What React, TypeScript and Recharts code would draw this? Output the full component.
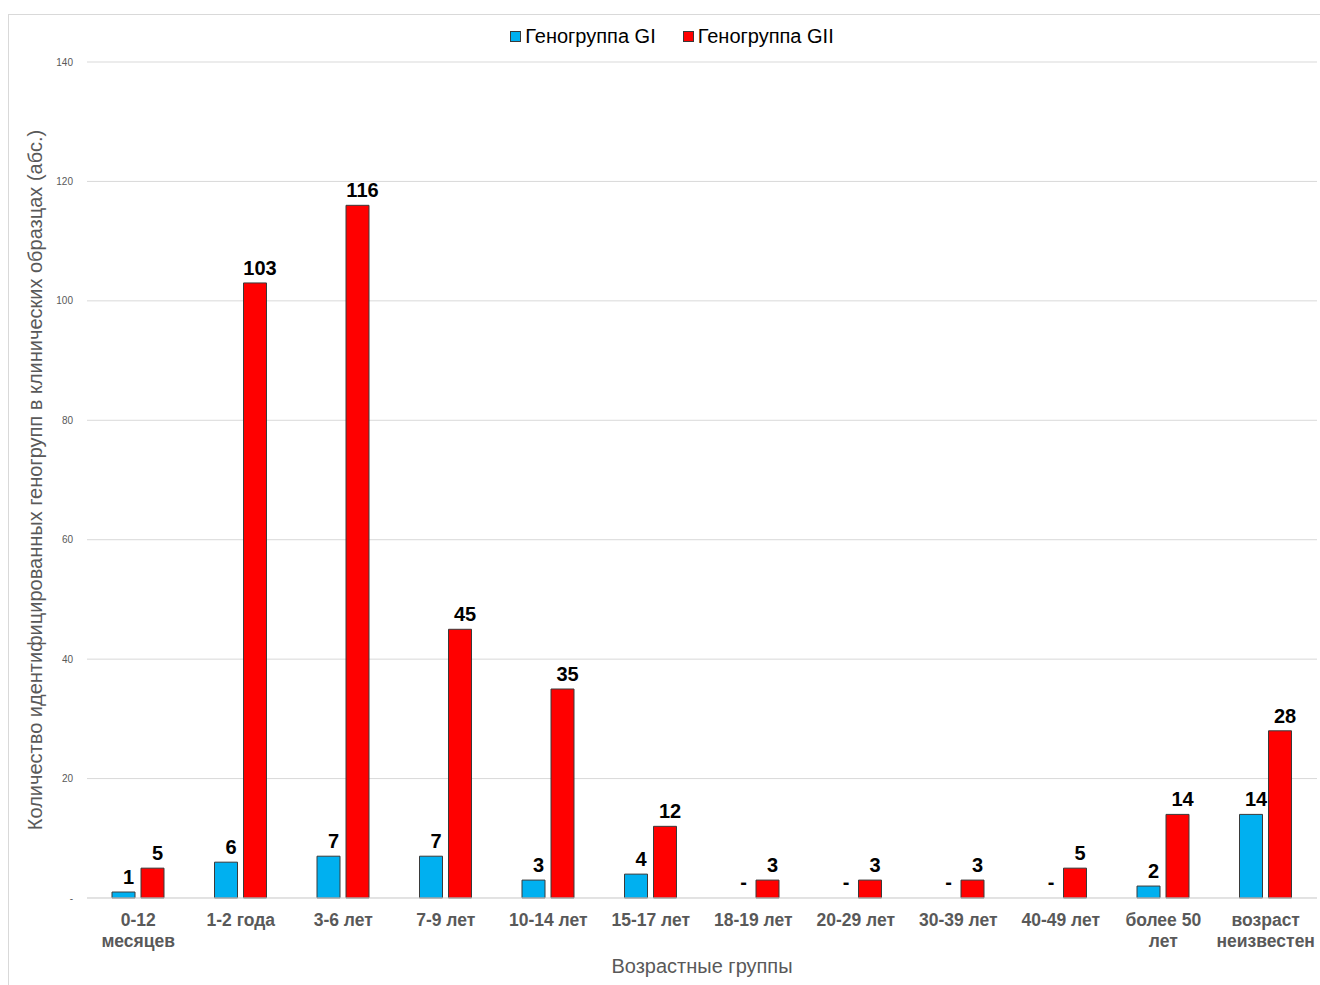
import React from 'react';
import {
  BarChart,
  Bar,
  Cell,
  XAxis,
  YAxis,
  CartesianGrid,
  Legend,
  LabelList,
} from 'recharts';

// Age groups (line breaks split the two-line tick labels)
const ageGroups: string[] = [
  '0-12\nмесяцев',
  '1-2 года',
  '3-6 лет',
  '7-9 лет',
  '10-14 лет',
  '15-17 лет',
  '18-19 лет',
  '20-29 лет',
  '30-39 лет',
  '40-49 лет',
  'более 50\nлет',
  'возраст\nнеизвестен',
];

// Genogroup GI counts (0 = not detected, shown as "-")
const genogroupGI: number[] = [1, 6, 7, 7, 3, 4, 0, 0, 0, 0, 2, 14];

// Genogroup GII counts
const genogroupGII: number[] = [5, 103, 116, 45, 35, 12, 3, 3, 3, 5, 14, 28];

const yTicks: number[] = [0, 20, 40, 60, 80, 100, 120, 140];

const seriesNames = ['Геногруппа GI', 'Геногруппа GII'];

const data = ageGroups.map((group, i) => ({
  group,
  gi: genogroupGI[i],
  gii: genogroupGII[i],
}));

const FONT = '"Liberation Sans", Arial, sans-serif';
const AXIS_GRAY = '#595959';
const GRID = '#d9d9d9';
const BLUE = '#00B0F0';
const RED = '#FF0000';
const OUTLINE = '#3a3a3a';

const dashZero = (v: any) => (Number(v) === 0 ? '-' : v);

const GroupTick = (props: any) => {
  const { x, y, payload } = props;
  const lines = String(payload.value).split('\n');
  return (
    <text
      x={x}
      y={y}
      textAnchor="middle"
      fill={AXIS_GRAY}
      fontFamily={FONT}
      fontSize={17.5}
      fontWeight="bold"
    >
      {lines.map((line, i) => (
        <tspan key={i} x={x} dy={i === 0 ? 20 : 21}>
          {line}
        </tspan>
      ))}
    </text>
  );
};

const TopLegend = (props: any) => {
  const payload = props.payload || [];
  return (
    <div style={{ height: 41, display: 'flex', justifyContent: 'center' }}>
      <div
        style={{
          height: 30,
          display: 'flex',
          alignItems: 'center',
          gap: 27,
          fontFamily: FONT,
          fontSize: 20,
          color: '#000',
          marginLeft: 18,
        }}
      >
        {payload.map((item: any) => (
          <div key={item.value} style={{ display: 'flex', alignItems: 'center' }}>
            <span
              style={{
                display: 'inline-block',
                width: 9,
                height: 9,
                background: item.color,
                border: `1px solid ${OUTLINE}`,
                marginRight: 4,
              }}
            />
            <span>{item.value}</span>
          </div>
        ))}
      </div>
    </div>
  );
};

const valueLabelStyle = {
  fill: '#000',
  fontSize: 20,
  fontWeight: 'bold',
  fontFamily: FONT,
  dx: 5,
};

export default function App() {
  return (
    <div style={{ paddingTop: 6 }}>
      <style>{'html,body{overflow:hidden} body{margin:8px 0 0 8px}'}</style>
      <div
        style={{
          width: 1312,
          height: 971,
          boxSizing: 'border-box',
          borderTop: `1px solid ${GRID}`,
          borderLeft: `1px solid ${GRID}`,
          background: '#fff',
        }}
      >
        <BarChart
          width={1311}
          height={969}
          data={data}
          margin={{ top: 6, right: 3, bottom: 0, left: 0 }}
          barSize={23}
          barGap={6}
        >
          <Legend
            verticalAlign="top"
            align="center"
            height={41}
            content={<TopLegend />}
          />
          <CartesianGrid vertical={false} stroke={GRID} strokeWidth={1} />
          <XAxis
            dataKey="group"
            height={86}
            interval={0}
            tickLine={false}
            axisLine={{ stroke: GRID }}
            tick={<GroupTick />}
            label={{
              value: 'Возрастные группы',
              position: 'insideBottom',
              offset: 11,
              fill: AXIS_GRAY,
              fontSize: 20,
              fontFamily: FONT,
            }}
          />
          <YAxis
            width={78}
            domain={[0, 140]}
            ticks={yTicks}
            tickFormatter={dashZero}
            tickLine={false}
            axisLine={false}
            tickSize={6}
            tickMargin={8}
            tick={{ fill: AXIS_GRAY, fontSize: 10, fontFamily: FONT }}
            label={{
              value: 'Количество идентифицированных геногрупп в клинических образцах (абс.)',
              angle: -90,
              position: 'insideLeft',
              offset: 26,
              fill: AXIS_GRAY,
              fontSize: 20,
              fontFamily: FONT,
              style: { textAnchor: 'middle' },
            }}
          />
          <Bar
            dataKey="gi"
            name={seriesNames[0]}
            fill={BLUE}
            stroke={OUTLINE}
            strokeWidth={1}
            minPointSize={1}
            isAnimationActive={false}
          >
            {data.map((d, i) => (
              <Cell
                key={i}
                fill={d.gi === 0 ? 'transparent' : BLUE}
                stroke={d.gi === 0 ? 'none' : OUTLINE}
              />
            ))}
            <LabelList
              dataKey="gi"
              position="top"
              offset={8}
              formatter={dashZero}
              {...valueLabelStyle}
            />
          </Bar>
          <Bar
            dataKey="gii"
            name={seriesNames[1]}
            fill={RED}
            stroke={OUTLINE}
            strokeWidth={1}
            isAnimationActive={false}
          >
            <LabelList
              dataKey="gii"
              position="top"
              offset={8}
              formatter={dashZero}
              {...valueLabelStyle}
            />
          </Bar>
        </BarChart>
      </div>
    </div>
  );
}
